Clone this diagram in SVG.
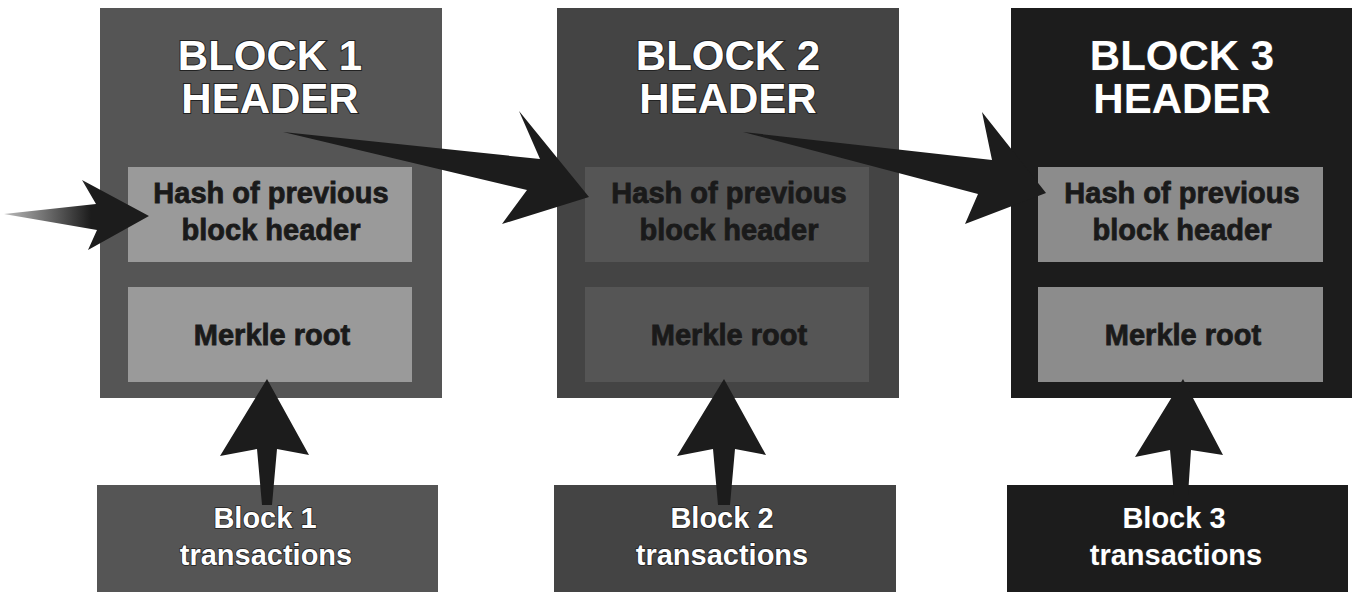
<svg xmlns="http://www.w3.org/2000/svg" width="1358" height="600" viewBox="0 0 1358 600">
  <style>
    .title { font-family: "Liberation Sans", Arial, sans-serif; font-weight: bold; font-size: 42px; fill: #ffffff; text-anchor: middle; stroke: #222; stroke-width: 2px; paint-order: stroke; }
    .inner { font-family: "Liberation Sans", Arial, sans-serif; font-weight: bold; font-size: 29px; fill: #1a1a1a; text-anchor: middle; stroke: #1a1a1a; stroke-width: 0.8px; }
    .tx { font-family: "Liberation Sans", Arial, sans-serif; font-weight: bold; font-size: 29px; fill: #ffffff; text-anchor: middle; stroke: #222; stroke-width: 1.5px; paint-order: stroke; }
    .arrow { fill: #1c1c1c; }
  </style>
  <defs>
    <linearGradient id="fadeL" x1="0" y1="0" x2="1" y2="0">
      <stop offset="0" stop-color="#bbbbbb"/>
      <stop offset="0.6" stop-color="#1c1c1c"/>
    </linearGradient>
  </defs>
  <rect width="1358" height="600" fill="#ffffff"/>

  <g id="block1">
    <rect x="100" y="8" width="342" height="390" fill="#555555"/>
    <text class="title" x="270" y="70">BLOCK 1</text>
    <text class="title" x="270" y="113">HEADER</text>
    <rect id="hash1" x="128" y="167" width="284" height="95" fill="#9a9a9a"/>
    <text class="inner" x="271" y="203">Hash of previous</text>
    <text class="inner" x="271" y="240">block header</text>
    <rect id="merkle1" x="128" y="287" width="284" height="95" fill="#9a9a9a"/>
    <text class="inner" x="272" y="345">Merkle root</text>
  </g>
  <g id="tx1">
    <rect x="97" y="485" width="341" height="107" fill="#555555"/>
  </g>

  <g id="block2">
    <rect x="557" y="8" width="342" height="390" fill="#444444"/>
    <text class="title" x="728" y="70">BLOCK 2</text>
    <text class="title" x="728" y="113">HEADER</text>
    <rect id="hash2" x="585" y="167" width="284" height="95" fill="#555555"/>
    <text class="inner" x="729" y="203">Hash of previous</text>
    <text class="inner" x="729" y="240">block header</text>
    <rect id="merkle2" x="585" y="287" width="284" height="95" fill="#555555"/>
    <text class="inner" x="729" y="345">Merkle root</text>
  </g>
  <g id="tx2">
    <rect x="554" y="485" width="342" height="107" fill="#444444"/>
  </g>

  <g id="block3">
    <rect x="1011" y="8" width="341" height="390" fill="#1c1c1c"/>
    <text class="title" x="1182" y="70">BLOCK 3</text>
    <text class="title" x="1182" y="113">HEADER</text>
    <rect id="hash3" x="1038" y="167" width="285" height="95" fill="#8c8c8c"/>
    <text class="inner" x="1182" y="203">Hash of previous</text>
    <text class="inner" x="1182" y="240">block header</text>
    <rect id="merkle3" x="1038" y="287" width="285" height="95" fill="#8c8c8c"/>
    <text class="inner" x="1183" y="345">Merkle root</text>
  </g>
  <g id="tx3">
    <rect x="1007" y="485" width="341" height="107" fill="#1c1c1c"/>
  </g>

  <g id="connectors">
    <polygon fill="url(#fadeL)" points="4,214 96,204 82,180 149,216 88,250 97,230"/>
    <polygon class="arrow" points="283,132 540,159 519,111 589,197 502,224 527,190"/>
    <polygon class="arrow" points="743,132 992,160 982,112 1046,193 965,224 978,194"/>
    <polygon class="arrow" points="262,505 257,449 220,456 267,379 309,455 277,449 272,505"/>
    <polygon class="arrow" points="718,505 713,449 677,456 724,379 766,455 735,449 730,505"/>
    <polygon class="arrow" points="1174,495 1170,450 1135,457 1183,379 1223,455 1191,450 1188,495"/>
  </g>

  <g id="tx-labels">
    <text class="tx" x="265" y="528">Block 1</text>
    <text class="tx" x="266" y="565">transactions</text>
    <text class="tx" x="722" y="528">Block 2</text>
    <text class="tx" x="722" y="565">transactions</text>
    <text class="tx" x="1174" y="528">Block 3</text>
    <text class="tx" x="1176" y="565">transactions</text>
  </g>
</svg>
